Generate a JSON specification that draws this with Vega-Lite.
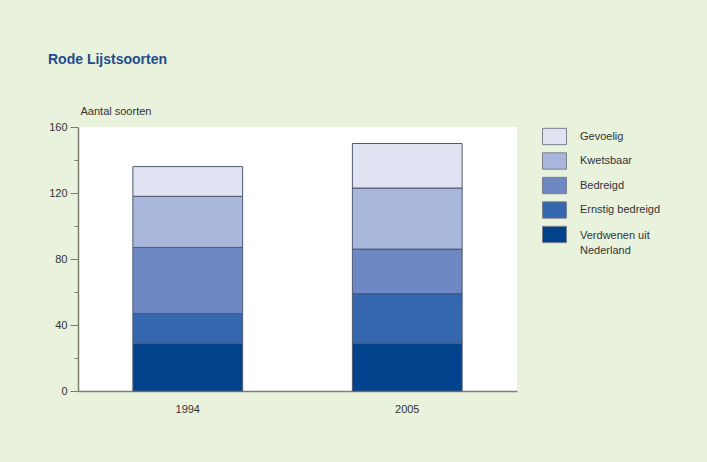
{
  "$schema": "https://vega.github.io/schema/vega-lite/v6.json",
  "width": 439,
  "height": 264,
  "autosize": {"type": "none"},
  "padding": {"left": 78, "top": 127, "right": 190, "bottom": 71},
  "background": "#E9F2DC",
  "title": {
    "text": "Rode Lijstsoorten",
    "anchor": "start",
    "frame": "group",
    "font": "Liberation Sans",
    "fontSize": 14,
    "fontWeight": "bold",
    "color": "#1F4C8C",
    "dx": -30,
    "offset": 38
  },
  "config": {
    "view": {"fill": "white", "stroke": null},
    "font": "Liberation Sans"
  },
  "data": {
    "values": [
      {"jaar": "1994", "categorie": "Verdwenen uit Nederland", "volgorde": 1, "aantal": 29},
      {"jaar": "1994", "categorie": "Ernstig bedreigd", "volgorde": 2, "aantal": 18},
      {"jaar": "1994", "categorie": "Bedreigd", "volgorde": 3, "aantal": 40},
      {"jaar": "1994", "categorie": "Kwetsbaar", "volgorde": 4, "aantal": 31},
      {"jaar": "1994", "categorie": "Gevoelig", "volgorde": 5, "aantal": 18},
      {"jaar": "2005", "categorie": "Verdwenen uit Nederland", "volgorde": 1, "aantal": 29},
      {"jaar": "2005", "categorie": "Ernstig bedreigd", "volgorde": 2, "aantal": 30},
      {"jaar": "2005", "categorie": "Bedreigd", "volgorde": 3, "aantal": 27},
      {"jaar": "2005", "categorie": "Kwetsbaar", "volgorde": 4, "aantal": 37},
      {"jaar": "2005", "categorie": "Gevoelig", "volgorde": 5, "aantal": 27}
    ]
  },
  "mark": {"type": "bar", "stroke": "#4E5870", "strokeWidth": 1},
  "encoding": {
    "x": {
      "field": "jaar",
      "type": "nominal",
      "scale": {"paddingInner": 0.5, "paddingOuter": 0.25},
      "axis": {
        "title": null,
        "labelAngle": 0,
        "ticks": false,
        "labelPadding": 12,
        "labelFont": "Liberation Sans",
        "labelFontSize": 11,
        "labelColor": "#333333",
        "domainColor": "#7E7E70",
        "domainWidth": 1.5
      }
    },
    "y": {
      "field": "aantal",
      "type": "quantitative",
      "stack": "zero",
      "scale": {"domain": [0, 160], "nice": false},
      "axis": {
        "values": [0, 20, 40, 60, 80, 100, 120, 140, 160],
        "labelExpr": "datum.value % 40 === 0 ? datum.label : ''",
        "tickSize": {"condition": {"test": "datum.value % 40 === 0", "value": 8}, "value": 4},
        "tickColor": "#7E7E70",
        "tickWidth": 1,
        "grid": false,
        "domainColor": "#7E7E70",
        "domainWidth": 1.5,
        "labelFont": "Liberation Sans",
        "labelFontSize": 11,
        "labelColor": "#333333",
        "labelPadding": 3,
        "title": "Aantal soorten",
        "titleAngle": 0,
        "titleAlign": "left",
        "titleBaseline": "alphabetic",
        "titleX": 2,
        "titleY": -13,
        "titleFont": "Liberation Sans",
        "titleFontSize": 11,
        "titleFontWeight": "normal",
        "titleColor": "#333333"
      }
    },
    "color": {
      "field": "categorie",
      "type": "nominal",
      "scale": {
        "domain": ["Gevoelig", "Kwetsbaar", "Bedreigd", "Ernstig bedreigd", "Verdwenen uit Nederland"],
        "range": ["#DFE3F2", "#A9B7DC", "#6E88C4", "#3467AD", "#00428C"]
      },
      "legend": {
        "orient": "none",
        "legendX": 464,
        "legendY": -3,
        "title": null,
        "symbolType": "M-1,-0.68L1,-0.68L1,0.68L-1,0.68Z",
        "symbolSize": 576,
        "symbolStrokeColor": "#7A7F8C",
        "symbolStrokeWidth": 1,
        "symbolOpacity": 1,
        "rowPadding": 1.5,
        "labelOffset": 13,
        "labelFont": "Liberation Sans",
        "labelFontSize": 11,
        "labelColor": "#333333",
        "labelLimit": 200,
        "labelExpr": "datum.label == 'Verdwenen uit Nederland' ? ['Verdwenen uit', 'Nederland'] : datum.label",
        "encode": {
          "labels": {
            "update": {
              "lineHeight": {"value": 15},
              "dy": {"signal": "datum.value == 'Verdwenen uit Nederland' ? 1.5 : 0"}
            }
          }
        }
      }
    },
    "order": {"field": "volgorde", "type": "quantitative"}
  }
}
